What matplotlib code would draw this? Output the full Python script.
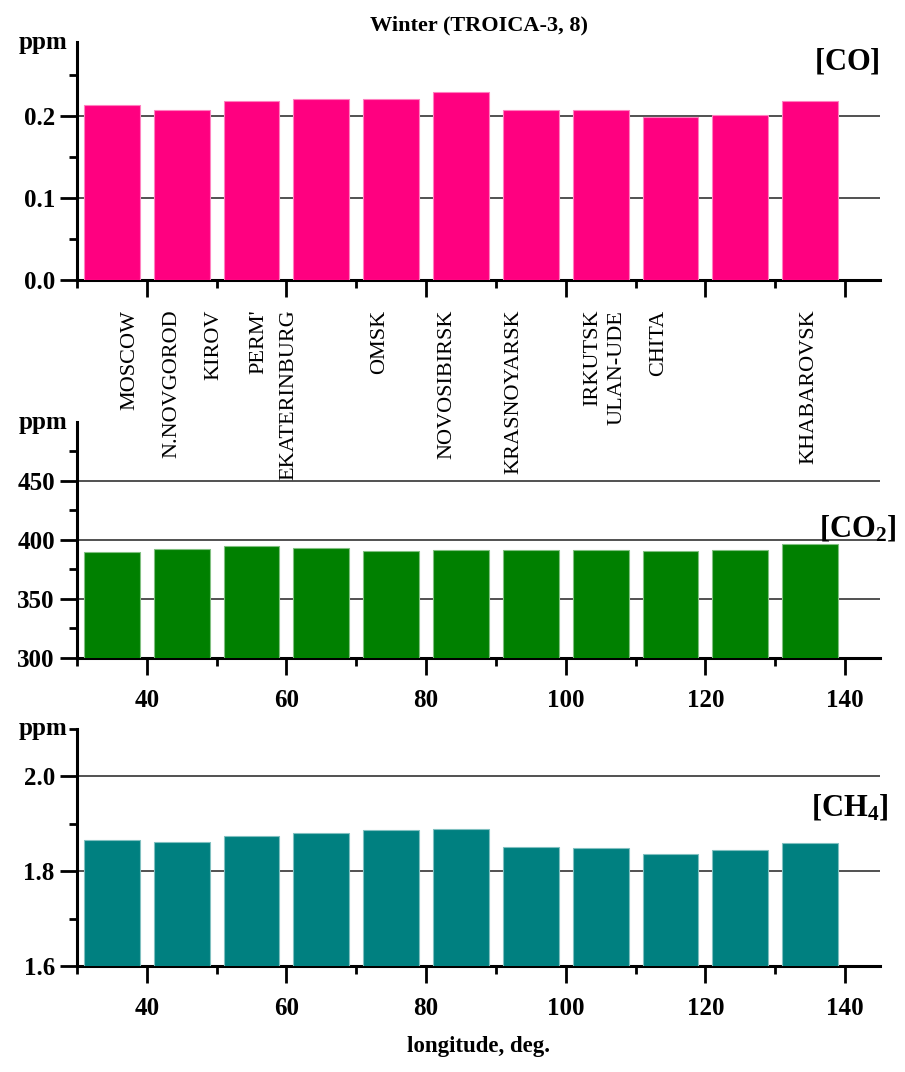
import matplotlib
matplotlib.use('Agg')
import matplotlib.pyplot as plt
from matplotlib.ticker import MultipleLocator

plt.rcParams['font.family'] = 'Liberation Serif'
plt.rcParams['mathtext.fontset'] = 'custom'
plt.rcParams['mathtext.rm'] = 'Liberation Serif:bold'
plt.rcParams['mathtext.bf'] = 'Liberation Serif:bold'

# bar centres (longitude, deg.)
lon = [35, 45, 55, 65, 75, 85, 95, 105, 115, 125, 135]
co = [0.213, 0.207, 0.218, 0.221, 0.220, 0.229, 0.207, 0.207, 0.199, 0.201, 0.218]
co2 = [390, 392, 395, 393, 390.5, 391.5, 391, 391.5, 390.5, 391, 396]
ch4 = [1.865, 1.861, 1.874, 1.880, 1.886, 1.888, 1.851, 1.849, 1.836, 1.845, 1.860]

cities = ['MOSCOW', 'N.NOVGOROD', 'KIROV', "PERM'", 'EKATERINBURG', 'OMSK',
          'NOVOSIBIRSK', 'KRASNOYARSK', 'IRKUTSK', 'ULAN-UDE', 'CHITA', 'KHABAROVSK']
city_lon = [37.6, 43.6, 49.6, 56.0, 60.4, 73.3, 82.9, 92.6, 103.8, 107.4, 113.3, 134.8]

W, H = 905, 1072
fig = plt.figure(figsize=(W / 100, H / 100), dpi=100)


def make_axes(top, bottom):
    ax = fig.add_axes([77 / W, 1 - bottom / H, (880 - 77) / W, (bottom - top) / H])
    ax.patch.set_alpha(0)
    return ax


def style(ax, ylim, major, minor, fmt, show_x=True):
    ax.set_xlim(30, 145)
    ax.set_ylim(*ylim)
    ax.xaxis.set_major_locator(MultipleLocator(20))
    ax.xaxis.set_minor_locator(MultipleLocator(10))
    ax.yaxis.set_major_locator(MultipleLocator(major))
    ax.yaxis.set_minor_locator(MultipleLocator(minor))
    ax.yaxis.set_major_formatter(fmt)
    for s in ['top', 'right']:
        ax.spines[s].set_visible(False)
    for s in ['left', 'bottom']:
        ax.spines[s].set_linewidth(2.2)
    ax.tick_params(which='major', direction='out', length=12, width=2)
    ax.tick_params(which='minor', direction='out', length=6, width=2)
    ax.tick_params(axis='y', which='major', pad=4)
    ax.tick_params(axis='x', which='major', pad=10, labelbottom=show_x)
    for lab in ax.get_xticklabels() + ax.get_yticklabels():
        lab.set_fontsize(18)
        lab.set_fontweight('bold')
    ax.grid(axis='y', which='major', color='#333333', linewidth=1.2)
    ax.set_axisbelow(True)
    ax.text(-0.012, 1.0, 'ppm', transform=ax.transAxes, ha='right', va='center',
            fontsize=18, fontweight='bold')


ax1 = make_axes(42, 280)
ax1.bar(lon, co, width=8, color='#ff0080', edgecolor='#ff80c0', linewidth=0.8, zorder=3)
style(ax1, (0, 0.29), 0.1, 0.05, '{x:.1f}', show_x=False)
ax1.set_title('Winter (TROICA-3, 8)', fontsize=16, fontweight='bold', pad=8)
ax1.text(1.0, 0.92, r'$\mathrm{[CO]}$', transform=ax1.transAxes, ha='right', va='center',
         fontsize=22)
for name, x in zip(cities, city_lon):
    ax1.text(x, -0.125, name, transform=ax1.get_xaxis_transform(), rotation=90,
             ha='center', va='top', fontsize=16, zorder=5)

ax2 = make_axes(422, 658)
ax2.bar(lon, co2, width=8, color='#008000', edgecolor='#80c080', linewidth=0.8, zorder=3)
style(ax2, (300, 499.5), 50, 25, '{x:.0f}')
ax2.text(1.02, 0.55, r'$\mathrm{[CO_2]}$', transform=ax2.transAxes, ha='right', va='center',
         fontsize=22)

ax3 = make_axes(729, 966)
ax3.bar(lon, ch4, width=8, color='#008080', edgecolor='#80c0c0', linewidth=0.8, zorder=3)
style(ax3, (1.6, 2.1), 0.2, 0.1, '{x:.1f}')
ax3.text(1.01, 0.67, r'$\mathrm{[CH_4]}$', transform=ax3.transAxes, ha='right', va='center',
         fontsize=22)
ax3.set_xlabel('longitude, deg.', fontsize=16.5, fontweight='bold', labelpad=12)

fig.savefig('out.png', dpi=100)
